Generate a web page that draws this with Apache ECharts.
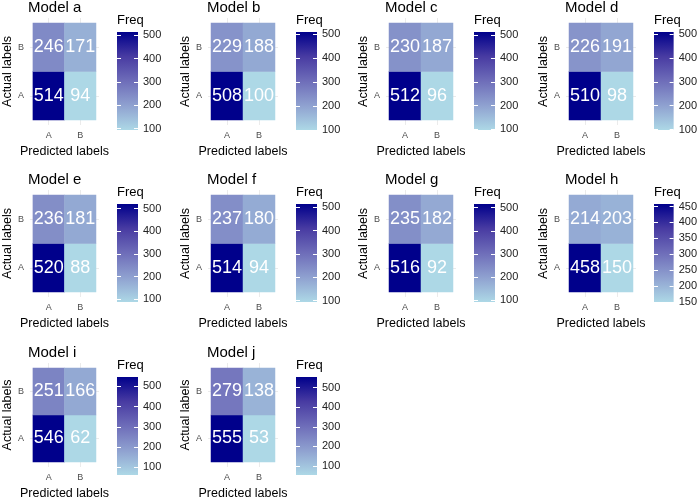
<!DOCTYPE html>
<html>
<head>
<meta charset="utf-8">
<script src="https://cdn.jsdelivr.net/npm/echarts@6/dist/echarts.min.js"></script>
<style>
  html, body { margin: 0; padding: 0; background: #fff; }
  #chart { width: 700px; height: 501px; }
</style>
</head>
<body>
<div id="chart"></div>
<script>
// confusion matrices, one entry per model
const models = ['Model a', 'Model b', 'Model c', 'Model d', 'Model e',
                'Model f', 'Model g', 'Model h', 'Model i', 'Model j'];
const classLabels = ['A', 'B'];
// actual A row
const actAPredA = [514, 508, 512, 510, 520, 514, 516, 458, 546, 555];
const actAPredB = [94, 100, 96, 98, 88, 94, 92, 150, 62, 53];
// actual B row
const actBPredA = [246, 229, 230, 226, 236, 237, 235, 214, 251, 279];
const actBPredB = [171, 188, 187, 191, 181, 180, 182, 203, 166, 138];
// colourbar tick labels
const legendTicks = [
  [100, 200, 300, 400, 500], [100, 200, 300, 400, 500], [100, 200, 300, 400, 500],
  [100, 200, 300, 400, 500], [100, 200, 300, 400, 500], [100, 200, 300, 400, 500],
  [100, 200, 300, 400, 500], [150, 200, 250, 300, 350, 400, 450],
  [100, 200, 300, 400, 500], [100, 200, 300, 400, 500]
];

// lightblue -> darkblue, stops taken in Lab space like ggplot
const ramp = ['#ADD8E6', '#8FA1D0', '#6E6DB9', '#483BA2', '#00008B'];

const colLeft = [32, 211, 389, 569];
const rowTop = [23, 195, 368];
const cellW = 64, cellH = 97;
const gridGrey = '#EBEBEB';

const chart = echarts.init(document.getElementById('chart'));

const grid = [], xAxis = [], yAxis = [], series = [], visualMap = [], title = [];
const legendSeries = [];

models.forEach(function (name, i) {
  const left = colLeft[i % 4];
  const top = rowTop[Math.floor(i / 4)];
  const vals = [actAPredA[i], actAPredB[i], actBPredA[i], actBPredB[i]];
  const vmin = Math.min.apply(null, vals);
  const vmax = Math.max.apply(null, vals);

  // heatmap grid
  grid.push({ left: left, top: top, width: cellW, height: cellH });
  // colourbar grid
  grid.push({ left: left + 85, top: top + 9, width: 21, height: 98 });

  // x: 4 per panel (bottom, top stubs, colourbar)
  xAxis.push({
    type: 'category', gridIndex: 2 * i, data: classLabels,
    axisLine: { show: false }, splitLine: { show: false },
    axisTick: { show: true, alignWithLabel: true, length: 5, lineStyle: { color: gridGrey } },
    axisLabel: { fontSize: 9, color: '#4D4D4D', margin: 11 },
    name: 'Predicted labels', nameLocation: 'middle', nameGap: 25,
    nameTextStyle: { fontSize: 12.5, color: '#000' }
  });
  xAxis.push({
    type: 'category', gridIndex: 2 * i, data: classLabels, position: 'top',
    axisLine: { show: false }, splitLine: { show: false }, axisLabel: { show: false },
    axisTick: { show: true, alignWithLabel: true, length: 5, lineStyle: { color: gridGrey } }
  });
  xAxis.push({ type: 'value', gridIndex: 2 * i + 1, min: 0, max: 1, show: false });

  // y: heatmap left, heatmap right stubs, colourbar left ticks, colourbar right labels
  yAxis.push({
    type: 'category', gridIndex: 2 * i, data: classLabels,
    axisLine: { show: false }, splitLine: { show: false },
    axisTick: { show: true, alignWithLabel: true, length: 3, lineStyle: { color: gridGrey } },
    axisLabel: { fontSize: 9, color: '#4D4D4D', margin: 9 },
    name: 'Actual labels', nameLocation: 'middle', nameGap: 18,
    nameTextStyle: { fontSize: 12.5, color: '#000' }
  });
  yAxis.push({
    type: 'category', gridIndex: 2 * i, data: classLabels, position: 'right',
    axisLine: { show: false }, splitLine: { show: false }, axisLabel: { show: false },
    axisTick: { show: true, alignWithLabel: true, length: 3, lineStyle: { color: gridGrey } }
  });
  const ticks = legendTicks[i];
  yAxis.push({
    type: 'value', gridIndex: 2 * i + 1, min: vmin, max: vmax, position: 'left', z: 10,
    axisLine: { show: false }, splitLine: { show: false },
    axisTick: { show: true, inside: true, length: 4, customValues: ticks,
                lineStyle: { color: '#fff', width: 1 } },
    axisLabel: { show: false }
  });
  yAxis.push({
    type: 'value', gridIndex: 2 * i + 1, min: vmin, max: vmax, position: 'right', z: 10,
    axisLine: { show: false }, splitLine: { show: false },
    axisTick: { show: true, inside: true, length: 4, customValues: ticks,
                lineStyle: { color: '#fff', width: 1 } },
    axisLabel: { show: true, customValues: ticks, fontSize: 11, color: '#222', margin: 5 }
  });

  series.push({
    type: 'heatmap', xAxisIndex: 3 * i, yAxisIndex: 4 * i,
    data: [[0, 0, actAPredA[i]], [1, 0, actAPredB[i]],
           [0, 1, actBPredA[i]], [1, 1, actBPredB[i]]],
    label: { show: true, color: '#fff', fontSize: 18,
             formatter: function (p) { return p.value[2]; } },
    emphasis: { disabled: true }
  });

  legendSeries.push({
    type: 'custom', xAxisIndex: 3 * i + 2, yAxisIndex: 4 * i + 2,
    data: [[0, vmin, vmax]], silent: true,
    encode: { x: 0, y: [1, 2] },
    renderItem: function (params, api) {
      const lo = api.coord([0, api.value(1)]);
      const hi = api.coord([1, api.value(2)]);
      return {
        type: 'rect',
        shape: { x: lo[0], y: hi[1], width: hi[0] - lo[0], height: lo[1] - hi[1] },
        style: {
          fill: new echarts.graphic.LinearGradient(0, 1, 0, 0,
            ramp.map(function (c, k) { return { offset: k / (ramp.length - 1), color: c }; }))
        }
      };
    }
  });

  visualMap.push({
    type: 'continuous', show: false, seriesIndex: i, dimension: 2,
    min: vmin, max: vmax, inRange: { color: ramp }
  });

  title.push({
    text: name, left: left - 4, top: top - 23, padding: 0,
    textStyle: { fontSize: 15, fontWeight: 'normal', color: '#000' }
  });
  title.push({
    text: 'Freq', left: left + 85, top: top - 9, padding: 0,
    textStyle: { fontSize: 13, fontWeight: 'normal', color: '#000' }
  });
});

const option = {
  backgroundColor: '#fff',
  animation: false,
  textStyle: { fontFamily: 'Liberation Sans, Arial, sans-serif' },
  title: title,
  grid: grid,
  xAxis: xAxis,
  yAxis: yAxis,
  visualMap: visualMap,
  series: series.concat(legendSeries)
};

chart.setOption(option);
</script>
</body>
</html>
